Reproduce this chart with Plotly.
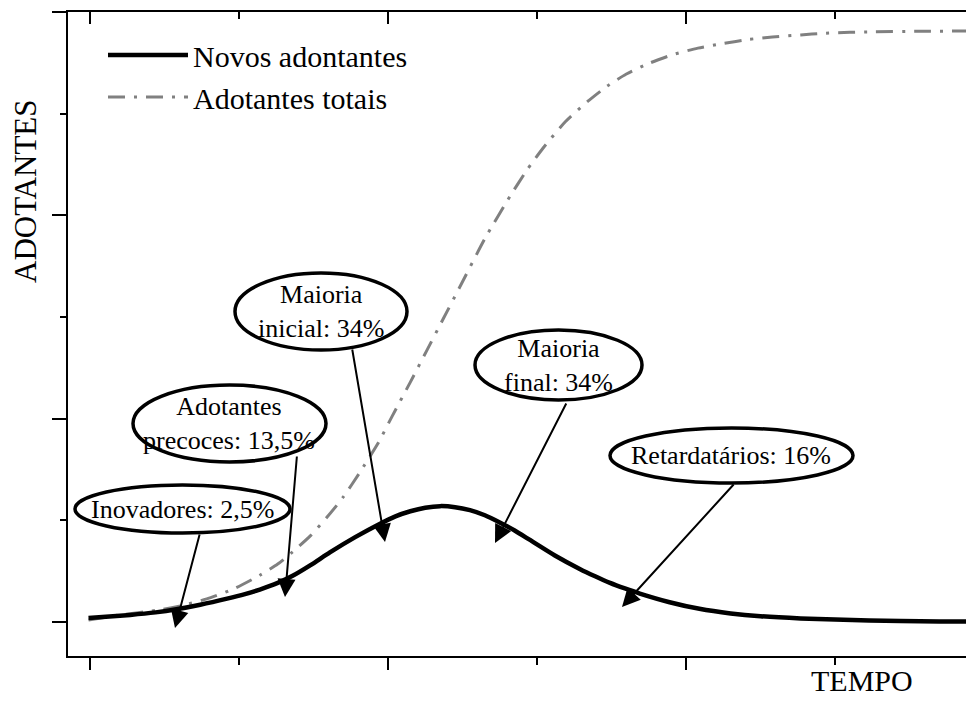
import plotly.graph_objects as go

# ---- data (x = time units, y = adopters units) ----
novos_x = [-0.01, 0.13, 0.27, 0.44, 0.58, 0.74, 0.92, 1.04, 1.14, 1.26, 1.36, 1.48, 1.61,
           1.78, 1.95, 2.05, 2.15, 2.25, 2.35, 2.45, 2.55, 2.65, 2.75, 2.85, 2.95, 3.12,
           3.29, 3.39, 3.49, 3.59, 3.69, 3.89, 4.09, 4.30, 4.50, 4.77, 5.00, 5.23, 5.44,
           5.70, 6.00]
novos_y = [0.04, 0.055, 0.07, 0.095, 0.125, 0.17, 0.23, 0.275, 0.32, 0.385, 0.455, 0.56, 0.685,
           0.835, 0.97, 1.04, 1.09, 1.125, 1.14, 1.13, 1.10, 1.05, 0.98, 0.90, 0.81, 0.655,
           0.52, 0.45, 0.385, 0.33, 0.28, 0.195, 0.13, 0.085, 0.057, 0.035, 0.024, 0.016, 0.011,
           0.006, 0.003]

totais_x = [-0.01, 0.20, 0.47, 0.64, 0.81, 0.97, 1.14, 1.26, 1.36, 1.48, 1.59, 1.70, 1.81,
            1.93, 2.03, 2.15, 2.26, 2.37, 2.48, 2.65, 2.82, 2.93, 3.04, 3.19, 3.34, 3.47,
            3.60, 3.76, 3.91, 4.08, 4.25, 4.42, 4.58, 4.77, 4.92, 5.10, 5.26, 5.57, 6.00]
totais_y = [0.02, 0.07, 0.12, 0.17, 0.24, 0.33, 0.46, 0.57, 0.69, 0.85, 1.03, 1.23, 1.47,
            1.75, 2.03, 2.36, 2.67, 2.98, 3.29, 3.77, 4.19, 4.44, 4.66, 4.92, 5.12, 5.27,
            5.39, 5.50, 5.58, 5.645, 5.69, 5.73, 5.755, 5.775, 5.79, 5.80, 5.805, 5.81, 5.815]

series_names = ["Novos adontantes", "Adotantes totais"]
x_title = "TEMPO"
y_title = "ADOTANTES"

callouts = ["Inovadores: 2,5%", "Adotantes<br>precoces: 13,5%", "Maioria<br>inicial: 34%",
            "Maioria<br>final: 34%", "Retardatários: 16%"]

# ---- layout geometry (page pixels; the page body adds an 8px offset) ----
OFF = 8
W, H = 974 - OFF, 701 - OFF
PL, PR, PT, PB = 68, 974, 12, 656          # plot area on the page
L, T = PL - OFF, PT - OFF
R, B = W + OFF - PR, H + OFF - PB
X0, X1 = -0.1477, 5.933
Y0, Y1 = -0.334, 6.0
pw, ph = PR - PL, PB - PT

def px2x(px):
    return X0 + (px - PL) / pw * (X1 - X0)

def py2y(py):
    return Y1 - (py - PT) / ph * (Y1 - Y0)

def px2paper(px):
    return (px - PL) / pw

def py2paper(py):
    return (PB - py) / ph

FONT = "Liberation Serif"

fig = go.Figure()
fig.add_trace(go.Scatter(x=totais_x, y=totais_y, mode="lines", name=series_names[1],
                         line=dict(color="#808080", width=3, dash="17px,9px,3px,9px",
                                   shape="spline", smoothing=0.6),
                         legendrank=2, hoverinfo="skip"))
fig.add_trace(go.Scatter(x=novos_x, y=novos_y, mode="lines", name=series_names[0],
                         line=dict(color="black", width=4.5, shape="spline", smoothing=0.6),
                         legendrank=1, hoverinfo="skip"))
# invisible trace so the mirrored (top / right) axes are drawn
fig.add_trace(go.Scatter(x=[X0], y=[Y0], xaxis="x2", yaxis="y2", mode="markers",
                         marker=dict(opacity=0), showlegend=False, hoverinfo="skip"))

# callout ellipses: (left, top, right, bottom) px, text centre, arrow start, arrow tip
ells = [
    ((75, 485, 290, 533), (182, 509), (200, 533), (175, 628)),
    ((133, 385, 326, 462), (229, 423), (297, 455), (285, 597)),
    ((235, 273, 407, 350), (321, 311), (352, 348), (385, 542)),
    ((475, 330, 642, 400), (558, 365), (567, 402), (495, 543)),
    ((610, 428, 853, 483), (731, 455), (735, 483), (622, 607)),
]
shapes = []
annotations = []
for (box, ctr, a0, a1), txt in zip(ells, callouts):
    shapes.append(dict(type="circle", xref="x", yref="y",
                       x0=px2x(box[0]), x1=px2x(box[2]), y0=py2y(box[3]), y1=py2y(box[1]),
                       line=dict(color="black", width=3.5), fillcolor="white", layer="above"))
    annotations.append(dict(x=px2x(ctr[0]), y=py2y(ctr[1]), xref="x", yref="y", text=txt,
                            showarrow=False, font=dict(family=FONT, size=26, color="black"),
                            align="center", xanchor="center", yanchor="middle"))
    annotations.append(dict(x=px2x(a1[0]), y=py2y(a1[1]), xref="x", yref="y",
                            ax=px2x(a0[0]), ay=py2y(a0[1]), axref="x", ayref="y",
                            text="", showarrow=True, arrowhead=2, arrowsize=1.8,
                            arrowwidth=2, arrowcolor="black", standoff=0, startstandoff=0))

annotations.append(dict(x=px2paper(862), y=py2paper(680), xref="paper", yref="paper",
                        xanchor="center", yanchor="middle",
                        text=x_title, showarrow=False,
                        font=dict(family=FONT, size=30, color="black")))
annotations.append(dict(x=px2paper(25), y=py2paper(191), xref="paper", yref="paper",
                        xanchor="center", yanchor="middle",
                        text=y_title, showarrow=False, textangle=-90,
                        font=dict(family=FONT, size=31, color="black")))

axis_common = dict(showgrid=False, zeroline=False, showticklabels=False)
fig.update_layout(
    width=W, height=H,
    margin=dict(l=L, r=R, t=T, b=B, pad=0),
    paper_bgcolor="white", plot_bgcolor="white",
    xaxis=dict(range=[X0, X1], showline=True, linecolor="black", linewidth=2,
               ticks="outside", tickvals=[0, 2, 4], ticklen=12, tickwidth=2, tickcolor="black",
               minor=dict(tickvals=[1, 3, 5], ticks="outside", ticklen=7, tickwidth=2,
                          tickcolor="black", showgrid=False),
               **axis_common),
    yaxis=dict(range=[Y0, Y1], showline=True, linecolor="black", linewidth=2,
               ticks="outside", tickvals=[0, 2, 4, 6], ticklen=14, tickwidth=2, tickcolor="black",
               minor=dict(tickvals=[1, 3, 5], ticks="outside", ticklen=6, tickwidth=2,
                          tickcolor="black", showgrid=False),
               **axis_common),
    xaxis2=dict(range=[X0, X1], overlaying="x", side="top", anchor="y2", showline=True,
                linecolor="black", linewidth=2, ticks="inside", tickvals=[0, 2, 4],
                ticklen=12, tickwidth=2, tickcolor="black",
                minor=dict(tickvals=[1, 3, 5], ticks="inside", ticklen=7, tickwidth=2,
                           tickcolor="black", showgrid=False),
                **axis_common),
    yaxis2=dict(range=[Y0, Y1], overlaying="y", side="right", anchor="x2", showline=False,
                ticks="inside", tickvals=[0, 2, 4], ticklen=6, tickwidth=2, tickcolor="black",
                **axis_common),
    showlegend=True,
    legend=dict(x=px2paper(103), y=py2paper(29), xanchor="left", yanchor="top",
                bgcolor="rgba(0,0,0,0)", font=dict(family=FONT, size=30, color="black"),
                itemwidth=80, tracegroupgap=0),
    shapes=shapes,
    annotations=annotations,
)

fig.write_html("out.html")
